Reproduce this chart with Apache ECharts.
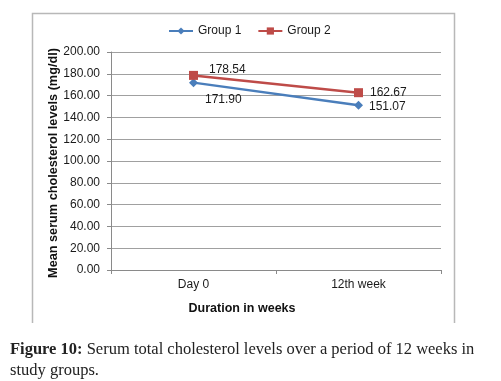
<!DOCTYPE html>
<html><head><meta charset="utf-8">
<script src="https://cdn.jsdelivr.net/npm/echarts@6/dist/echarts.min.js"></script>
<style>html,body{margin:0;padding:0;background:#fff}#c{width:501px;height:381px}</style>
</head><body><div id="c"></div>
<script>
var categories = ['Day 0', '12th week'];
var group1 = [171.90, 151.07];
var group2 = [178.54, 162.67];
var yTicks = [0, 20, 40, 60, 80, 100, 120, 140, 160, 180, 200];

var chart = echarts.init(document.getElementById('c'), null, {renderer: 'canvas'});
var lblFont = {fontFamily: 'Liberation Sans', fontSize: 12, color: '#1a1a1a'};
function items(vals, labelCfgs) {
  return vals.map(function (v, i) {
    return {value: v, label: Object.assign({show: true, formatter: function (p) { return p.value.toFixed(2); }}, lblFont, labelCfgs[i])};
  });
}
chart.setOption({
  animation: false,
  backgroundColor: '#fff',
  legend: {
    left: 163, top: 20, itemWidth: 24, itemHeight: 9, itemGap: 16,
    textStyle: {fontFamily: 'Liberation Sans', fontSize: 12, color: '#1a1a1a'},
    data: ['Group 1', 'Group 2']
  },
  grid: {left: 111, right: 60, top: 52, bottom: 111},
  xAxis: {
    type: 'category', data: categories, boundaryGap: true,
    axisLine: {lineStyle: {color: '#8a8a8a'}},
    axisTick: {show: true, length: 4, lineStyle: {color: '#8a8a8a'}},
    axisLabel: {fontFamily: 'Liberation Sans', fontSize: 12, color: '#1a1a1a', margin: 9}
  },
  yAxis: {
    type: 'value', min: yTicks[0], max: yTicks[yTicks.length - 1], interval: yTicks[1] - yTicks[0],
    axisLine: {show: true, lineStyle: {color: '#8a8a8a'}},
    axisTick: {show: true, length: 4, lineStyle: {color: '#8a8a8a'}},
    splitLine: {lineStyle: {color: '#a0a0a0'}},
    axisLabel: {fontFamily: 'Liberation Sans', fontSize: 12, color: '#1a1a1a', margin: 11,
      formatter: function (v) { return v.toFixed(2); }}
  },
  series: [
    {
      name: 'Group 1', type: 'line', data: items(group1, [
        {position: 'right', offset: [2, 17]},
        {position: 'right', offset: [1, 1]}
      ]),
      symbol: 'diamond', symbolSize: 9,
      lineStyle: {color: '#4a7ebb', width: 2.5},
      itemStyle: {color: '#4a7ebb'}
    },
    {
      name: 'Group 2', type: 'line', data: items(group2, [
        {position: 'right', offset: [6, -6]},
        {position: 'right', offset: [2, 0]}
      ]),
      symbol: 'rect', symbolSize: 9,
      lineStyle: {color: '#be4b48', width: 2.5},
      itemStyle: {color: '#be4b48'}
    }
  ],
  graphic: [
    {type: 'polyline', shape: {points: [[32.5, 323], [32.5, 13.5], [454.5, 13.5], [454.5, 323]]},
      style: {stroke: '#b8b8b8', lineWidth: 1.5, fill: null}},
    {type: 'text', x: 242, y: 309, style: {
      text: 'Duration in weeks', font: 'bold 12.5px "Liberation Sans"', fill: '#111',
      align: 'center', verticalAlign: 'middle'}},
    {type: 'text', x: 53, y: 163, rotation: Math.PI / 2, style: {
      text: 'Mean serum cholesterol levels (mg/dl)', font: 'bold 12.7px "Liberation Sans"', fill: '#111',
      align: 'center', verticalAlign: 'middle'}},
    {type: 'text', left: 10, top: 339, style: {
      text: '{b|Figure 10:} Serum total cholesterol levels over a period of 12 weeks in\nstudy groups.',
      rich: {b: {fontFamily: 'Liberation Serif', fontSize: 16.5, fontWeight: 'bold', fill: '#222'}},
      font: '16.5px "Liberation Serif"', fill: '#222', lineHeight: 21
    }}
  ]
});
</script></body></html>
